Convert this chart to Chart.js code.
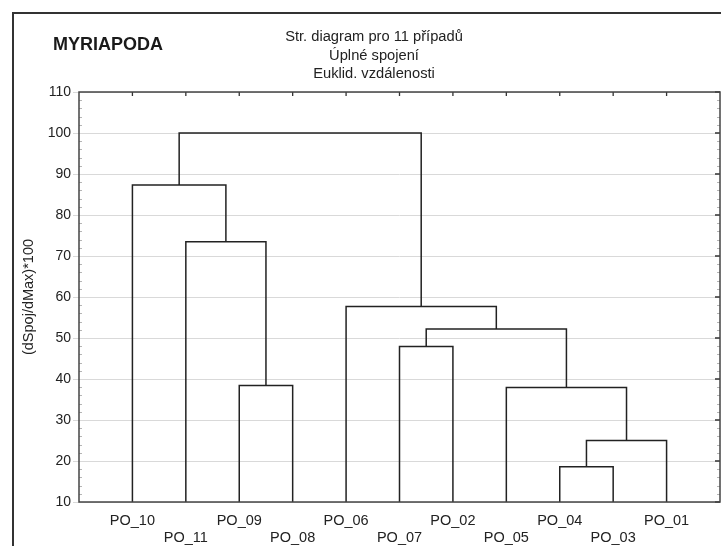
<!DOCTYPE html>
<html>
<head>
<meta charset="utf-8">
<script src="https://cdn.jsdelivr.net/npm/chart.js@4.4.1/dist/chart.umd.min.js"></script>
<style>
  html, body { margin: 0; padding: 0; background: #fff; }
  #wrap { width: 721px; height: 546px; }
</style>
</head>
<body>
<div id="wrap"><canvas id="dendro" width="721" height="546"></canvas></div>
<script>
// leaf order along the x axis
const leaves = ['PO_10', 'PO_11', 'PO_09', 'PO_08', 'PO_06', 'PO_07', 'PO_02', 'PO_05', 'PO_04', 'PO_03', 'PO_01'];
// linkage steps; a number refers back to an earlier step
const joinLeft = ['PO_04', 0, 'PO_05', 'PO_09', 'PO_07', 4, 'PO_06', 'PO_11', 'PO_10', 8];
const joinRight = ['PO_03', 'PO_01', 1, 'PO_08', 'PO_02', 2, 5, 3, 7, 6];
const joinHeight = [18.6, 25.0, 37.9, 38.4, 47.9, 52.2, 57.7, 73.5, 87.3, 100];
const yTicks = [10, 20, 30, 40, 50, 60, 70, 80, 90, 100, 110];
const groupName = 'MYRIAPODA';
const titleLines = ['Str. diagram pro 11 případů', 'Úplné spojení', 'Euklid. vzdálenosti'];
const yAxisTitle = '(dSpoj/dMax)*100';

const FONT = '"Liberation Sans", Arial, sans-serif';
const yMin = yTicks[0];
const yMax = yTicks[yTicks.length - 1];

// build the U-shaped links of the tree
const nodes = [];
function nodeOf(ref) {
    if (typeof ref === 'number') return nodes[ref];
    return { x: leaves.indexOf(ref) + 1, y: yMin };
}
const links = joinHeight.map((h, i) => {
    const a = nodeOf(joinLeft[i]);
    const b = nodeOf(joinRight[i]);
    nodes.push({ x: (a.x + b.x) / 2, y: h });
    return [
        { x: a.x, y: a.y },
        { x: a.x, y: h },
        { x: b.x, y: h },
        { x: b.x, y: b.y }
    ];
});

// frame, inner ticks and the heading texts
const framePlugin = {
    id: 'frame',
    afterDraw(chart) {
        const { ctx, chartArea: area, scales } = chart;
        const xs = scales.x, ys = scales.y;
        ctx.save();

        // outer border
        ctx.strokeStyle = '#333';
        ctx.lineWidth = 2;
        ctx.beginPath();
        ctx.moveTo(13, 546);
        ctx.lineTo(13, 13);
        ctx.lineTo(721, 13);
        ctx.stroke();

        // minor ticks on both sides
        ctx.strokeStyle = '#b5b5b5';
        ctx.lineWidth = 1;
        ctx.beginPath();
        for (let v = yMin + 2; v < yMax; v += 2) {
            if (v % 10 === 0) continue;
            const y = Math.round(ys.getPixelForValue(v)) + 0.5;
            ctx.moveTo(area.left, y);
            ctx.lineTo(area.left + 3, y);
            ctx.moveTo(area.right - 3, y);
            ctx.lineTo(area.right, y);
        }
        ctx.stroke();

        // major ticks, right side and top
        ctx.strokeStyle = '#333';
        ctx.lineWidth = 1.3;
        ctx.beginPath();
        yTicks.forEach(v => {
            const y = ys.getPixelForValue(v);
            ctx.moveTo(area.right - 5, y);
            ctx.lineTo(area.right, y);
        });
        leaves.forEach((_, i) => {
            const x = xs.getPixelForValue(i + 1);
            ctx.moveTo(x, area.top);
            ctx.lineTo(x, area.top + 4);
        });
        ctx.stroke();

        // plot box
        ctx.strokeStyle = '#444';
        ctx.lineWidth = 1.5;
        ctx.strokeRect(area.left, area.top, area.right - area.left, area.bottom - area.top);

        // headings
        ctx.fillStyle = '#1a1a1a';
        ctx.textBaseline = 'alphabetic';
        ctx.textAlign = 'left';
        ctx.font = 'bold 18px ' + FONT;
        ctx.fillText(groupName, 53, 49.5);

        ctx.fillStyle = '#222';
        ctx.textAlign = 'center';
        ctx.font = '14.7px ' + FONT;
        const baselines = [40.7, 59.5, 78.3];
        titleLines.forEach((t, i) => ctx.fillText(t, 374, baselines[i]));
        ctx.restore();
    }
};

const ctx = document.getElementById('dendro').getContext('2d');
new Chart(ctx, {
    type: 'line',
    data: {
        datasets: links.map(pts => ({
            data: pts,
            borderColor: '#222',
            borderWidth: 1.5,
            pointRadius: 0,
            fill: false,
            tension: 0
        }))
    },
    options: {
        responsive: false,
        animation: false,
        parsing: false,
        layout: { padding: { top: 92, right: 1, left: 0, bottom: 0 } },
        plugins: {
            legend: { display: false },
            tooltip: { enabled: false }
        },
        scales: {
            x: {
                type: 'linear',
                min: 0,
                max: leaves.length + 1,
                grid: { display: false },
                border: { display: false },
                afterBuildTicks: s => { s.ticks = leaves.map((_, i) => ({ value: i + 1 })); },
                afterFit: s => { s.height = 44; },
                ticks: {
                    autoSkip: false,
                    maxRotation: 0,
                    padding: 2,
                    color: '#222',
                    font: { family: FONT, size: 14.5, lineHeight: 1.2 },
                    callback: v => {
                        const i = Math.round(v) - 1;
                        return i % 2 ? ['', leaves[i]] : leaves[i];
                    }
                }
            },
            y: {
                type: 'linear',
                min: yMin,
                max: yMax,
                afterBuildTicks: s => { s.ticks = yTicks.map(v => ({ value: v })); },
                afterFit: s => { s.width = 79; },
                grid: { color: '#d9d9d9', lineWidth: 1, tickLength: 6, drawTicks: true },
                border: { display: false },
                ticks: {
                    padding: 2,
                    color: '#222',
                    font: { family: FONT, size: 14 }
                },
                title: {
                    display: true,
                    text: yAxisTitle,
                    color: '#222',
                    font: { family: FONT, size: 14.5 },
                    padding: { top: 20, bottom: 0 }
                }
            }
        }
    },
    plugins: [framePlugin]
});
</script>
</body>
</html>
